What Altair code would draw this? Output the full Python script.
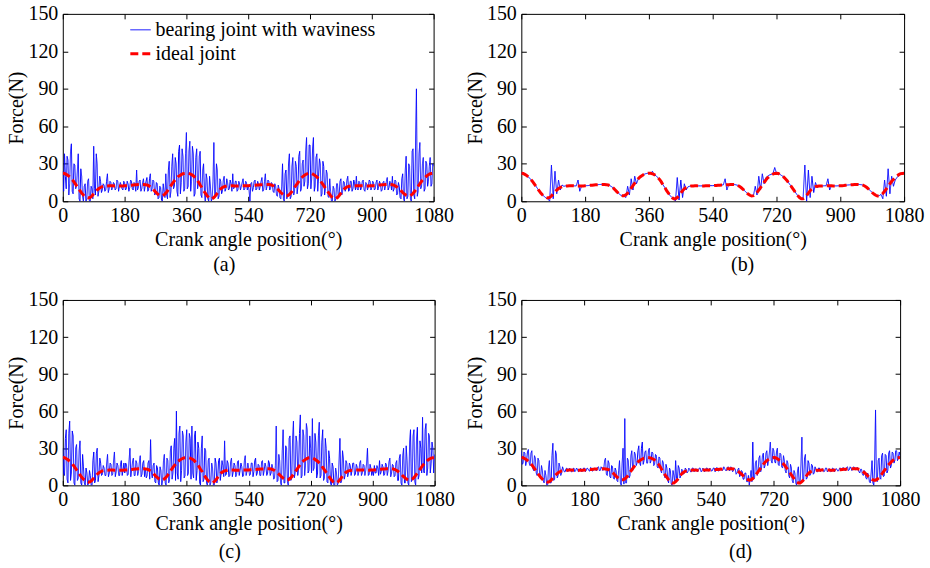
import altair as alt
import pandas as pd

# ---------------- data ----------------
angle = list(range(0, 1081, 5))          # main sample grid (deg)

ideal = [
    22.5, 22.3, 21.5, 20.7, 19.5, 18, 16.5, 14.5, 12.5, 10.5, 8.5, 6.5,
    5, 3.8, 3, 2.6, 3, 4.2, 6, 7.5, 9, 10.2, 11, 11.7,
    12, 12.2, 12.3, 12.4, 12.4, 12.4, 12.3, 12.3, 12.3, 12.3, 12.3, 12.3,
    12.4, 12.5, 12.6, 12.8, 12.9, 13.1, 13.2, 13.3, 13.4, 13.5, 13.5, 13.5,
    13.3, 13, 12.5, 11.6, 10.5, 9, 7.5, 6.2, 5, 4.5, 4.5, 5.2,
    6.5, 8.3, 10.5, 12.5, 14.5, 16.3, 18, 19.5, 20.5, 21.3, 22, 22.3,
    22.5, 22.4, 22, 21.3, 20.5, 19, 17.5, 15.5, 13, 11, 8.5, 6.5,
    4.5, 3, 2, 2, 3, 4.5, 6.5, 8.5, 10, 11, 11.7, 12,
    12.3, 12.3, 12.4, 12.4, 12.3, 12.3, 12.3, 12.3, 12.4, 12.4, 12.5, 12.5,
    12.5, 12.6, 12.7, 12.8, 12.9, 13, 13.1, 13.2, 13.3, 13.3, 13.4, 13.4,
    13.4, 13.2, 12.8, 12, 11, 9.8, 8.5, 7, 5.8, 4.8, 4.2, 4.5,
    5.5, 7, 9, 11, 13, 15, 17, 18.7, 20, 21, 21.8, 22.3,
    22.5, 22.3, 21.5, 20.5, 19.5, 18, 16.5, 14.5, 12.5, 10.5, 8.5, 6.5,
    4.5, 3, 2, 2, 3, 4.5, 6.5, 8.5, 10, 11, 11.7, 12,
    12.2, 12.3, 12.3, 12.4, 12.4, 12.4, 12.4, 12.4, 12.3, 12.3, 12.3, 12.4,
    12.4, 12.5, 12.6, 12.8, 13, 13.1, 13.2, 13.3, 13.4, 13.5, 13.5, 13.4,
    13.2, 12.8, 12, 11, 9.8, 8.5, 7, 5.8, 4.8, 4.2, 4.2, 5,
    6.2, 8, 10, 12, 14, 16, 17.5, 19, 20.3, 21.3, 22, 22.3,
    22.5,
]

# panel (a): values at 0,5,...,1080 and at 2.5,7.5,...,1077.5
wavy_a = [
    24, 38, 10, 33, 14, 46, 6, 29, 12, 38, 0, 20,
    0, 14, 2, 18, 0, 10, 44, 5, 30, 8, 16, 9,
    13, 9, 22, 10, 15, 11, 14, 10, 16, 12, 13, 9,
    15, 10, 14, 11, 16, 9, 14, 25, 11, 17, 10, 18,
    12, 19, 9, 22, 10, 16, 6, 14, 3, 11, 0, 8,
    22, 2, 32, 8, 38, 12, 30, 4, 45, 15, 36, 10,
    55, 12, 48, 16, 38, 6, 42, 14, 40, 3, 30, 0,
    18, 0, 12, 2, 47, 6, 25, 4, 16, 8, 20, 10,
    15, 10, 14, 22, 11, 16, 9, 14, 12, 18, 10, 15,
    13, 0, 15, 11, 17, 10, 14, 12, 19, 9, 22, 12,
    16, 10, 14, 7, 12, 4, 10, 2, 30, 0, 25, 5,
    38, 4, 35, 8, 28, 12, 40, 10, 33, 16, 51, 14,
    45, 18, 51, 12, 38, 20, 30, 6, 28, 10, 22, 3,
    8, 0, 10, 2, 14, 6, 18, 8, 15, 10, 20, 9,
    16, 10, 14, 20, 9, 15, 11, 17, 8, 14, 12, 16,
    11, 15, 10, 17, 12, 14, 9, 16, 12, 19, 11, 15,
    20, 10, 16, 6, 12, 2, 22, 0, 36, 4, 28, 0,
    42, 2, 90, 8, 47, 12, 35, 10, 30, 16, 35, 14,
    28,
]
wavy_a_mid = [
    8, 20, 36, 5, 40, 8, 30, 10, 25, 2, 26, 4,
    12, 0, 16, 0, 12, 2, 10, 38, 4, 20, 7, 14,
    8, 16, 7, 16, 9, 15, 9, 17, 8, 15, 10, 16,
    9, 16, 8, 17, 10, 15, 8, 9, 16, 8, 15, 8,
    16, 8, 18, 8, 17, 5, 15, 2, 12, 1, 14, 3,
    5, 25, 3, 28, 10, 35, 8, 40, 6, 42, 8, 38,
    10, 40, 8, 44, 4, 35, 10, 36, 5, 25, 8, 22,
    2, 20, 0, 16, 3, 30, 2, 18, 6, 17, 8, 18,
    9, 17, 8, 10, 16, 8, 16, 9, 15, 9, 16, 9,
    9, 14, 8, 16, 9, 16, 9, 16, 8, 16, 9, 17,
    9, 15, 8, 14, 5, 13, 3, 12, 2, 22, 2, 30,
    2, 28, 5, 32, 6, 36, 8, 30, 12, 40, 10, 45,
    10, 42, 8, 35, 8, 34, 4, 32, 5, 25, 4, 18,
    0, 12, 0, 14, 3, 16, 5, 16, 8, 17, 8, 16,
    8, 17, 9, 10, 16, 9, 16, 9, 15, 9, 17, 9,
    16, 9, 15, 9, 16, 8, 15, 9, 16, 9, 16, 9,
    8, 17, 5, 15, 3, 18, 2, 25, 2, 30, 2, 40,
    5, 45, 4, 38, 10, 30, 8, 32, 12, 28, 12, 30,
]

# panel (b): values at 0,5,...,1080
wavy_b = [
    22.5, 22.3, 21.5, 20.7, 19.5, 18, 16.5, 14.5, 12.5, 10.5, 8.5, 6.5,
    5, 3.8, 2.5, 2, 0, 29, 2, 24, 6, 17, 9, 13,
    12, 12.3, 12.3, 12.5, 12.4, 12.4, 12.3, 12.3, 17, 8, 12.3, 12.3,
    12.4, 12.5, 12.6, 12.8, 12.9, 13.1, 13.2, 13.3, 13.4, 13.5, 13.5, 13.5,
    13.3, 13, 12.5, 11.6, 10.5, 9, 7.5, 6.2, 5, 4.5, 4.2, 3,
    12, 5, 18, 9, 20, 14, 18, 19.5, 20.5, 21.3, 22, 22.3,
    22.5, 22.4, 24, 21, 20.5, 19, 17.5, 15.5, 13, 11, 8.5, 6.5,
    4.5, 3, 2, 0, 19, 1, 17, 3, 14, 9, 11.5, 12,
    12.3, 12.3, 12.4, 12.4, 12.3, 12.3, 12.3, 12.3, 12.4, 12.4, 12.5, 12.5,
    12.5, 12.6, 12.7, 12.8, 12.9, 13, 13.1, 18, 9, 13.3, 13.4, 13.4,
    13.4, 13.2, 12.8, 12, 11, 9.8, 8.5, 7, 5.8, 4.8, 4.2, 4.5,
    12, 5, 20, 9, 22, 14, 19, 20, 21, 21.5, 22, 27,
    22.5, 22.3, 21.5, 20.5, 19.5, 18, 16.5, 14.5, 12.5, 10.5, 8.5, 6.5,
    4.5, 3, 1.5, 2, 29, 0, 25, 3, 20, 7, 15, 11,
    12, 12.3, 12.3, 12.4, 12.4, 18, 9, 12.4, 12.3, 12.3, 12.3, 12.4,
    12.4, 12.5, 12.6, 12.8, 13, 13.1, 13.2, 13.3, 13.4, 13.5, 13.5, 13.4,
    13.2, 12.8, 12, 11, 9.8, 8.5, 7, 5.8, 4.8, 4.2, 4.5, 5.5,
    2, 17, 4, 26, 6, 20, 12, 17, 19, 20.5, 21.5, 22,
    22.5,
]

# panel (c)
wavy_c = [
    30, 8, 45, 2, 52, 10, 40, 0, 33, 6, 36, 0,
    15, 0, 10, 2, 8, 0, 27, 4, 30, 8, 18, 9,
    14, 8, 25, 10, 17, 9, 27, 11, 16, 8, 20, 12,
    10, 17, 9, 30, 12, 22, 8, 18, 11, 24, 9, 20,
    14, 8, 20, 37, 6, 18, 2, 14, 0, 12, 4, 25,
    0, 20, 4, 32, 10, 38, 60, 5, 48, 12, 40, 8,
    45, 10, 38, 48, 6, 44, 12, 30, 0, 40, 5, 28,
    0, 22, 2, 14, 0, 18, 6, 22, 10, 16, 36, 9,
    18, 8, 22, 11, 16, 9, 20, 12, 15, 8, 24, 11,
    14, 9, 18, 11, 22, 10, 16, 8, 20, 12, 15, 10,
    18, 10, 14, 6, 48, 4, 20, 0, 45, 2, 30, 0,
    40, 6, 52, 10, 35, 14, 57, 8, 40, 16, 45, 12,
    30, 54, 14, 35, 10, 51, 8, 45, 6, 30, 2, 22,
    0, 15, 0, 10, 2, 38, 4, 22, 8, 18, 10, 16,
    12, 18, 9, 15, 11, 20, 10, 16, 12, 30, 9, 14,
    12, 16, 10, 14, 20, 11, 15, 9, 17, 12, 22, 10,
    16, 8, 20, 4, 25, 0, 30, 2, 20, 0, 45, 5,
    45, 0, 47, 8, 30, 55, 10, 50, 14, 40, 18, 30,
    25,
]
wavy_c_mid = [
    10, 38, 5, 42, 4, 44, 2, 30, 4, 28, 2, 25,
    2, 14, 0, 12, 0, 20, 2, 26, 3, 22, 8, 16,
    8, 18, 7, 18, 8, 20, 7, 18, 8, 17, 8, 18,
    18, 8, 20, 7, 19, 8, 20, 8, 19, 7, 18, 7,
    6, 18, 5, 10, 16, 3, 16, 2, 15, 0, 20, 2,
    22, 2, 28, 5, 30, 4, 10, 42, 3, 44, 6, 35,
    8, 42, 5, 10, 40, 4, 35, 2, 30, 3, 30, 2,
    20, 0, 18, 0, 22, 2, 20, 4, 20, 7, 8, 20,
    7, 19, 7, 18, 7, 19, 8, 18, 7, 20, 8, 18,
    8, 18, 7, 20, 8, 17, 8, 19, 8, 18, 8, 20,
    8, 17, 5, 16, 3, 25, 2, 28, 2, 32, 3, 38,
    4, 38, 6, 40, 8, 42, 6, 45, 8, 50, 10, 40,
    10, 12, 42, 6, 40, 6, 35, 4, 38, 3, 28, 2,
    18, 0, 14, 0, 20, 2, 28, 5, 20, 7, 18, 8,
    18, 8, 17, 8, 18, 8, 17, 8, 18, 8, 17, 8,
    8, 10, 16, 8, 9, 17, 8, 18, 8, 19, 7, 17,
    7, 18, 4, 22, 2, 24, 2, 32, 2, 35, 3, 40,
    3, 38, 5, 36, 10, 12, 45, 8, 42, 10, 35, 10,
]

# panel (d)
wavy_d = [
    28, 18, 26, 20, 29, 16, 28, 12, 22, 8, 20, 6,
    12, 2, 8, 0, 20, 2, 34, 5, 25, 8, 15, 10,
    13, 11, 14, 12, 13, 11, 14, 12, 13, 11.5, 13.5, 12,
    14, 12, 13.5, 11.5, 14, 12, 13.5, 12, 15, 12, 14, 13,
    22, 8, 18, 6, 15, 5, 12, 3, 20, 0, 30, 54,
    2, 20, 8, 28, 15, 25, 18, 32, 16, 35, 20, 28,
    18, 30, 20, 26, 17, 24, 14, 22, 10, 18, 6, 14,
    2, 12, 0, 8, 20, 4, 14, 8, 12, 10, 13, 11,
    13, 11, 14, 12, 13, 12, 14, 11.5, 13, 12, 14, 12,
    13, 12, 14, 12, 13.5, 12, 14, 12.5, 13.5, 12, 15, 12,
    14, 12, 13, 10, 14, 8, 11, 5, 10, 3, 0, 12,
    35, 6, 20, 10, 24, 14, 26, 16, 28, 20, 35, 18,
    28, 18, 30, 16, 25, 14, 20, 10, 18, 6, 14, 2,
    10, 0, 15, 2, 39, 4, 25, 6, 18, 9, 16, 10,
    13, 11, 14, 12, 13, 11.5, 14, 12, 13, 11.5, 13.5, 12,
    13, 12, 14, 12.5, 13.5, 12, 15, 12.5, 14, 13, 14.5, 13,
    14, 10, 13, 8, 11, 5, 8, 2, 20, 0, 61, 3,
    22, 5, 26, 8, 24, 12, 28, 16, 26, 20, 28, 22,
    24,
]
wavy_d_mid = [
    17, 27, 16, 27, 18, 26, 14, 24, 10, 22, 8, 16,
    4, 12, 0, 14, 2, 24, 4, 28, 6, 18, 8, 15,
    11, 13.5, 11, 14, 11, 13.5, 11, 14, 11, 13.5, 11, 14,
    11, 14, 12, 14.5, 11.5, 14, 12, 14.5, 12, 15, 12, 20,
    9, 20, 7, 16, 6, 14, 4, 12, 2, 18, 1, 2,
    22, 6, 24, 12, 27, 16, 28, 18, 30, 17, 27, 18,
    28, 18, 27, 16, 25, 15, 23, 12, 20, 8, 17, 4,
    14, 1, 12, 2, 6, 16, 6, 13, 9, 14, 10, 14,
    11, 14, 11, 13.5, 11, 14, 11, 14, 11, 14, 11.5, 14,
    11.5, 14, 11, 14.5, 11.5, 14, 12, 15, 12, 14.5, 12, 15,
    11, 14, 9, 13, 7, 12, 5, 10, 3, 8, 6, 3,
    5, 18, 8, 22, 11, 24, 14, 26, 16, 27, 20, 30,
    19, 27, 17, 26, 15, 24, 12, 20, 8, 17, 4, 12,
    2, 12, 1, 18, 3, 22, 5, 20, 8, 17, 9, 15,
    11, 14, 11, 13.5, 11, 14, 11, 13.5, 11, 14, 11, 13.5,
    11.5, 14, 12, 14.5, 12, 14.5, 12, 15, 12, 15, 12.5, 14.5,
    11, 13, 9, 12, 6, 10, 3, 10, 2, 18, 4, 20,
    6, 24, 7, 25, 10, 26, 14, 27, 18, 28, 20, 27,
]

series_names = ["bearing joint with waviness", "ideal joint"]
x_ticks = [0, 180, 360, 540, 720, 900, 1080]
y_ticks = [0, 30, 60, 90, 120, 150]
captions = ["(a)", "(b)", "(c)", "(d)"]

FONT = "Liberation Serif"
FS = 20
TICK = {"expr": "-5"}


def combine(main, mid):
    xs, ys = [], []
    for i, v in enumerate(main):
        xs.append(angle[i])
        ys.append(v)
        if mid is not None and i < len(mid):
            xs.append(angle[i] + 2.5)
            ys.append(mid[i])
    return xs, ys


def panel(main, mid, caption, width, height, dx, cap_offset, legend):
    bx, by = combine(main, mid)
    blue_df = pd.DataFrame({"angle": bx, "force": by, "series": series_names[0]})
    red_df = pd.DataFrame({"angle": angle, "force": ideal, "series": series_names[1]})

    if legend:
        leg = alt.Legend(
            title=None, orient="none", legendX=66, legendY=5,
            labelFont=FONT, labelFontSize=FS, labelColor="black",
            symbolType="stroke", symbolSize=420, labelOffset=3,
            rowPadding=2, padding=0, labelLimit=400,
        )
    else:
        leg = None

    color = alt.Color("series:N", scale=alt.Scale(domain=series_names, range=["#0000ff", "#ff0000"]), legend=leg)
    dash = alt.StrokeDash("series:N", scale=alt.Scale(domain=series_names, range=[[1, 0], [8, 4]]), legend=leg)
    swidth = alt.StrokeWidth("series:N", scale=alt.Scale(domain=series_names, range=[1, 3]), legend=leg)

    xs = alt.Scale(domain=[0, 1080], nice=False, zero=False)
    ys = alt.Scale(domain=[0, 150], nice=False)

    blue = alt.Chart(blue_df).mark_line(clip=True).encode(
        x=alt.X("angle:Q", scale=xs, axis=alt.Axis(
            values=x_ticks, format="d", title="Crank angle position(°)", labelPadding=9, titlePadding=4,
            tickSize=TICK, domain=False, labelFlush=False)),
        y=alt.Y("force:Q", scale=ys, axis=alt.Axis(
            values=y_ticks, title="Force(N)", labelPadding=10, titlePadding=1,
            tickSize=TICK, domain=False)),
        color=color, strokeDash=dash, strokeWidth=swidth,
    )
    red = alt.Chart(red_df).mark_line(clip=True).encode(
        x=alt.X("angle:Q", scale=xs, axis=alt.Axis(
            values=x_ticks, orient="top", labels=False, title=None, tickSize=TICK, domain=False)),
        y=alt.Y("force:Q", scale=ys, axis=alt.Axis(
            values=y_ticks, orient="right", labels=False, title=None, tickSize=TICK, domain=False)),
        color=color, strokeDash=dash, strokeWidth=swidth,
    )
    return alt.layer(blue, red).resolve_scale(x="independent", y="independent").properties(
        width=width, height=height,
        title=alt.TitleParams(caption, orient="bottom", font=FONT, fontSize=FS, fontWeight="normal",
                              color="black", anchor="middle", frame="group", dx=dx, offset=cap_offset),
    )


pa = panel(wavy_a, wavy_a_mid, captions[0], 372, 188, -24, 6, True)
pb = panel(wavy_b, None, captions[1], 384, 188, 30, 6, False)
pc = panel(wavy_c, wavy_c_mid, captions[2], 373, 186, -19, 9, False)
pd_ = panel(wavy_d, wavy_d_mid, captions[3], 380, 186, 30, 9, False)

chart = alt.concat(pa, pb, pc, pd_, columns=2, spacing={"row": 13, "column": 9}).resolve_scale(
    color="independent", strokeDash="independent", strokeWidth="independent"
).properties(
    padding={"left": 6, "top": 2, "right": 5, "bottom": 5},
    background="white",
).configure_view(stroke="black", strokeWidth=1).configure_axis(
    labelFont=FONT, labelFontSize=FS, labelColor="black",
    titleFont=FONT, titleFontSize=FS, titleFontWeight="normal", titleColor="black",
    tickColor="black", grid=False,
)

chart.save("out.html", embed_options={"renderer": "svg", "actions": False})
